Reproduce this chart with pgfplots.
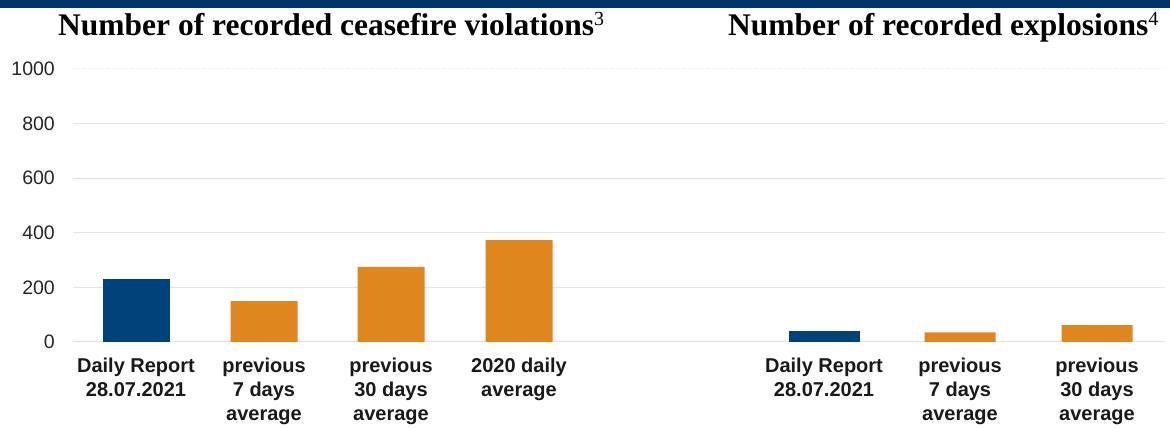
\documentclass[border=0pt]{standalone}
\usepackage{pgfplots}
\pgfplotsset{compat=1.18}
\usepackage{fontspec}
\setmainfont{Liberation Sans}
\newfontfamily\timesf{Liberation Serif}
\definecolor{band}{HTML}{003366}
\definecolor{navybar}{HTML}{00427A}
\definecolor{orangebar}{HTML}{E0861F}
\definecolor{gridc}{HTML}{E4E4E4}
\begin{document}
\begin{tikzpicture}[x=1pt,y=1pt]
\path[use as bounding box] (0,0) rectangle (1170,428);
\fill[band] (0,420) rectangle (1170,428);
\node[anchor=base west, inner sep=0pt] at (58,392) {\timesf\bfseries\fontsize{31.5}{31.5}\selectfont Number of recorded ceasefire violations\raisebox{10pt}{\mdseries\fontsize{20}{20}\selectfont 3}};
\node[anchor=base west, inner sep=0pt] at (728,392) {\timesf\bfseries\fontsize{31.5}{31.5}\selectfont Number of recorded explosions\raisebox{10pt}{\mdseries\fontsize{20}{20}\selectfont 4}};
\begin{axis}[
  at={(73pt,86pt)}, anchor=south west,
  scale only axis, width=1092pt, height=273pt,
  xmin=73, xmax=1165, ymin=0, ymax=1000,
  axis line style={draw=none},
  major tick length=0pt,
  ytick={0,200,400,600,800},
  extra y ticks={1000},
  extra y tick style={grid style={gridc, dotted, line width=1pt}},
  ymajorgrids, grid style={gridc, line width=1pt},
  /pgf/number format/assume math mode=true,
  /pgf/number format/1000 sep={},
  yticklabel style={font=\fontsize{19.5}{23.5}\selectfont, text=black!85, anchor=east, inner sep=0pt, xshift=-18pt},
  xtick={136,264,391,519,824,960,1097},
  xticklabels={{Daily Report\\28.07.2021},{previous\\7 days\\average},{previous\\30 days\\average},{2020 daily\\average},{Daily Report\\28.07.2021},{previous\\7 days\\average},{previous\\30 days\\average}},
  xticklabel style={font=\bfseries\fontsize{20}{24}\selectfont, align=center, anchor=north, inner sep=0pt, yshift=-16pt, text=black!90},
]
\addplot[ybar, bar shift=0pt, bar width=67pt, fill=navybar, draw=none] coordinates {(136,229)};
\addplot[ybar, bar shift=0pt, bar width=67pt, fill=orangebar, draw=none] coordinates {(264,150) (391,275) (519,373)};
\addplot[ybar, bar shift=0pt, bar width=71pt, fill=navybar, draw=none] coordinates {(824,40)};
\addplot[ybar, bar shift=0pt, bar width=71pt, fill=orangebar, draw=none] coordinates {(960,35) (1097,62)};
\end{axis}
\end{tikzpicture}
\end{document}
